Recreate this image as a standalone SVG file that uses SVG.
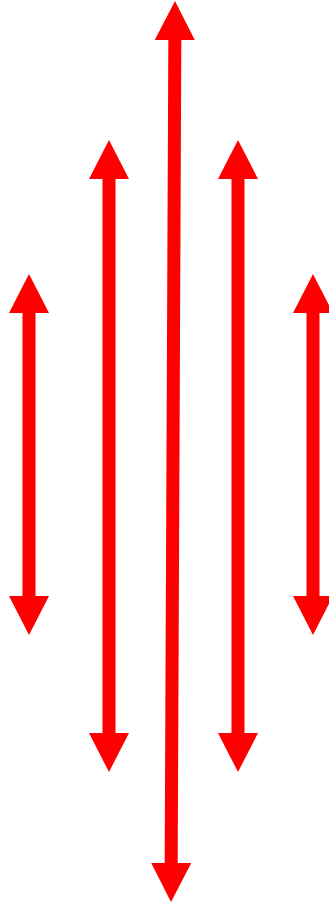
<svg xmlns="http://www.w3.org/2000/svg" width="329" height="909" viewBox="0 0 329 909">
<style>
.arrow{stroke:#ff0000;stroke-width:13;fill:none;marker-start:url(#head);marker-end:url(#head)}
</style>
<defs>
<marker id="head" markerUnits="userSpaceOnUse" markerWidth="40" markerHeight="40" viewBox="0 0 40 40" refX="1" refY="20" orient="auto-start-reverse">
<path d="M0 0 L39 20 L0 40 Z" fill="#ff0000"/>
</marker>
</defs>
<g id="connectors">
<line id="arrow-left" class="arrow" x1="29" y1="312" x2="29" y2="597"/>
<line id="arrow-inner-left" class="arrow" x1="109" y1="178" x2="109" y2="734"/>
<line id="arrow-center" class="arrow" x1="174.83" y1="39" x2="171.17" y2="864"/>
<line id="arrow-inner-right" class="arrow" x1="238" y1="178" x2="238" y2="734"/>
<line id="arrow-right" class="arrow" x1="313" y1="312" x2="313" y2="597"/>
</g>
</svg>
